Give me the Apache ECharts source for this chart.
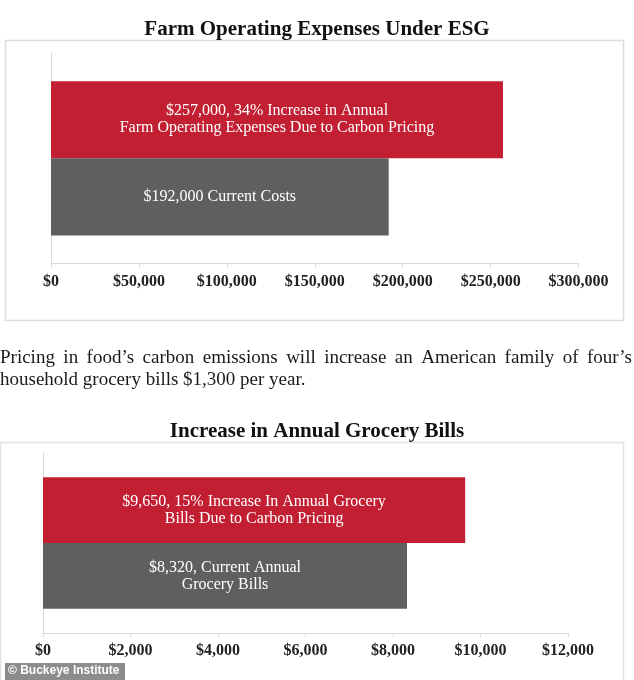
<!DOCTYPE html>
<html>
<head>
<meta charset="utf-8">
<script src="https://cdn.jsdelivr.net/npm/echarts@6/dist/echarts.min.js"></script>
<style>
html,body{margin:0;padding:0;background:#fff;}
#chart{width:634px;height:680px;}
</style>
</head>
<body>
<div id="chart"></div>
<script>
// ---- Data ----
const farmTitle = 'Farm Operating Expenses Under ESG';
const farmCategories = ['Farm Operating Expenses'];
const farmCarbonValues = [257000];
const farmCurrentValues = [192000];
const farmCarbonLabel = '$257,000, 34% Increase in Annual\nFarm Operating Expenses Due to Carbon Pricing';
const farmCurrentLabel = '$192,000 Current Costs';
const farmAxisMax = 300000;
const farmAxisStep = 50000;

const groceryTitle = 'Increase in Annual Grocery Bills';
const groceryCategories = ['Annual Grocery Bills'];
const groceryCarbonValues = [9650];
const groceryCurrentValues = [8320];
const groceryCarbonLabel = '$9,650, 15% Increase In Annual Grocery\nBills Due to Carbon Pricing';
const groceryCurrentLabel = '$8,320, Current Annual\nGrocery Bills';
const groceryAxisMax = 12000;
const groceryAxisStep = 2000;

const paragraphLine1 = 'Pricing in food\u2019s carbon emissions will increase an American family of four\u2019s';
const paragraphLine2 = 'household grocery bills $1,300 per year.';
const creditText = '\u00A9 Buckeye Institute';

// ---- Styles ----
const RED = '#C21F32';
const GRAY = '#5F5F5F';
const SERIF = '"Liberation Serif", "DejaVu Serif", serif';
const AXIS_COLOR = '#DADADA';

function money(v) {
  return '$' + Math.round(v).toString().replace(/\B(?=(\d{3})+(?!\d))/g, ',');
}

const chart = echarts.init(document.getElementById('chart'), null, {renderer: 'canvas'});

// justified paragraph line 1
const paraFont = '19px ' + SERIF;
const ctx = document.createElement('canvas').getContext('2d');
ctx.font = paraFont;
const words = paragraphLine1.split(' ');
const widths = words.map(w => ctx.measureText(w).width);
const lineLeft = 0, lineRight = 632;
const totalW = widths.reduce((a, b) => a + b, 0);
const gap = (lineRight - lineLeft - totalW) / (words.length - 1);
const paraGraphics = [];
let cx = lineLeft;
words.forEach((w, i) => {
  paraGraphics.push({
    type: 'text', left: cx, top: 349, silent: true,
    style: {text: w, font: paraFont, fill: '#1a1a1a'}
  });
  cx += widths[i] + gap;
});
paraGraphics.push({
  type: 'text', left: 0, top: 371, silent: true,
  style: {text: paragraphLine2, font: paraFont, fill: '#1a1a1a'}
});

function valueAxis(gridIndex, max, step) {
  return {
    type: 'value', gridIndex: gridIndex, min: 0, max: max, interval: step,
    axisLine: {show: true, lineStyle: {color: AXIS_COLOR, width: 1}},
    axisTick: {show: true, length: 4, lineStyle: {color: AXIS_COLOR}},
    splitLine: {show: false},
    axisLabel: {
      formatter: money, color: '#222', fontFamily: SERIF, fontSize: 16,
      fontWeight: 'bold', margin: 10
    }
  };
}
function catAxis(gridIndex, cats) {
  return {
    type: 'category', gridIndex: gridIndex, data: cats, inverse: true,
    axisLine: {show: true, lineStyle: {color: AXIS_COLOR, width: 1}},
    axisTick: {show: false}, axisLabel: {show: false}
  };
}
function barSeries(idx, values, color, label, gapPct) {
  return {
    type: 'bar', xAxisIndex: idx, yAxisIndex: idx, data: values,
    barGap: '0%', barCategoryGap: gapPct,
    itemStyle: {color: color},
    label: {
      show: true, position: 'inside', formatter: label,
      color: '#fff', fontFamily: SERIF, fontSize: 16, lineHeight: 17
    },
    silent: true, animation: false
  };
}

chart.setOption({
  animation: false,
  title: [
    {text: farmTitle, left: 'center', top: 14,
     textStyle: {fontFamily: SERIF, fontSize: 21, fontWeight: 'bold', color: '#111'}},
    {text: groceryTitle, left: 'center', top: 416,
     textStyle: {fontFamily: SERIF, fontSize: 21, fontWeight: 'bold', color: '#111'}}
  ],
  grid: [
    {left: 51, right: 55.4, top: 53, height: 210.7},
    {left: 43, right: 66, top: 453, height: 180}
  ],
  xAxis: [valueAxis(0, farmAxisMax, farmAxisStep), valueAxis(1, groceryAxisMax, groceryAxisStep)],
  yAxis: [catAxis(0, farmCategories), catAxis(1, groceryCategories)],
  series: [
    barSeries(0, farmCarbonValues, RED, farmCarbonLabel, '26.7%'),
    barSeries(0, farmCurrentValues, GRAY, farmCurrentLabel, '26.7%'),
    barSeries(1, groceryCarbonValues, RED, groceryCarbonLabel, '27%'),
    barSeries(1, groceryCurrentValues, GRAY, groceryCurrentLabel, '27%')
  ],
  graphic: [
    {type: 'rect', z: -1, silent: true, shape: {x: 5.5, y: 40.5, width: 618, height: 280},
     style: {fill: 'none', stroke: '#DDDDDD', lineWidth: 1.5}},
    {type: 'rect', z: -1, silent: true, shape: {x: 0.5, y: 442.5, width: 623, height: 260},
     style: {fill: 'none', stroke: '#E2E2E2', lineWidth: 1.5}},
    ...paraGraphics,
    {type: 'rect', silent: true, z: 10, shape: {x: 5, y: 663, width: 120, height: 17},
     style: {fill: '#8C8C8C'}},
    {type: 'text', silent: true, z: 11, left: 8, top: 665,
     style: {text: creditText, font: 'bold 12px "Liberation Sans", Arial, sans-serif', fill: '#fff'}}
  ]
});
</script>
</body>
</html>
